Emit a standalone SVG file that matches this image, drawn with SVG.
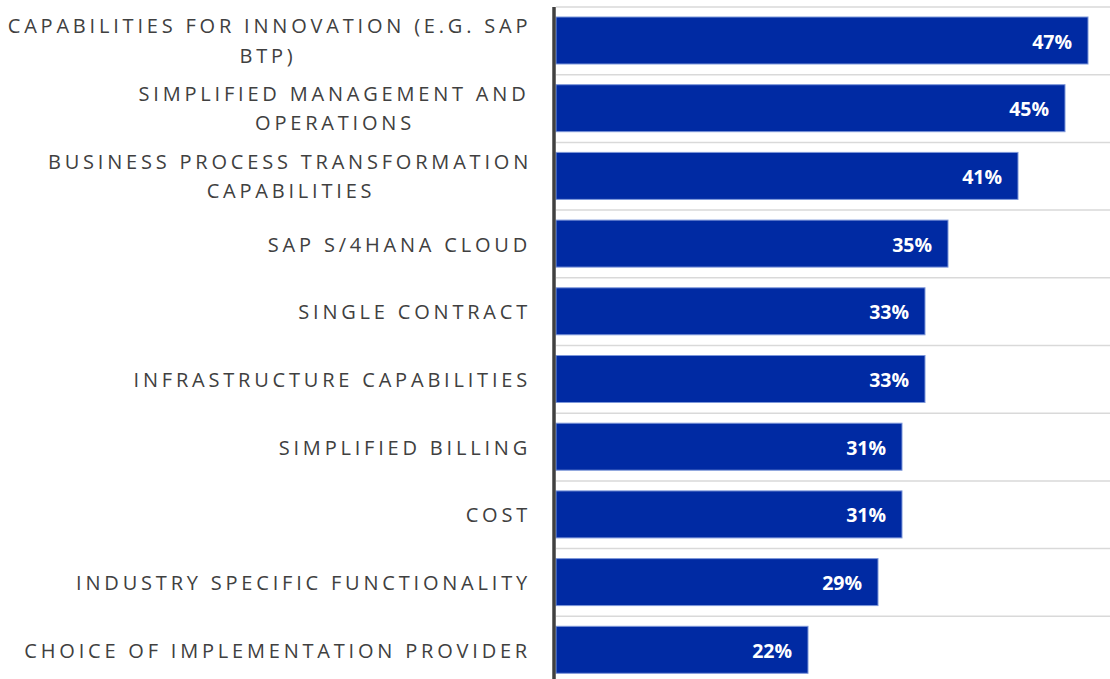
<svg xmlns="http://www.w3.org/2000/svg" width="1110" height="679" viewBox="0 0 1110 679">
<style>
.grid{stroke:#d9d9d9;stroke-width:1.5}
.bar{fill:#002aa3;stroke:#7d97d9;stroke-width:1}
.lbl{font-family:"Open Sans","Liberation Sans",sans-serif;font-size:20px;fill:#404040;letter-spacing:3.8px}
.end{text-anchor:end}
.mid{text-anchor:middle}
.val{font-family:"Open Sans","Liberation Sans",sans-serif;font-size:19.5px;font-weight:bold;fill:#ffffff;text-anchor:end}
</style>
<rect width="1110" height="679" fill="#ffffff"/>
<g id="gridlines">
<line class="grid" x1="556" y1="7" x2="1110" y2="7"/>
<line class="grid" x1="556" y1="74.7" x2="1110" y2="74.7"/>
<line class="grid" x1="556" y1="142.4" x2="1110" y2="142.4"/>
<line class="grid" x1="556" y1="210.1" x2="1110" y2="210.1"/>
<line class="grid" x1="556" y1="277.8" x2="1110" y2="277.8"/>
<line class="grid" x1="556" y1="345.5" x2="1110" y2="345.5"/>
<line class="grid" x1="556" y1="413.2" x2="1110" y2="413.2"/>
<line class="grid" x1="556" y1="480.9" x2="1110" y2="480.9"/>
<line class="grid" x1="556" y1="548.6" x2="1110" y2="548.6"/>
<line class="grid" x1="556" y1="616.3" x2="1110" y2="616.3"/>
</g>
<g id="row1">
<rect class="bar" x="556" y="17" width="532" height="47"/>
<text class="val" x="1072" y="48.5">47%</text>
<text class="lbl mid" x="269.5" y="33.3">CAPABILITIES FOR INNOVATION (E.G. SAP</text>
<text class="lbl mid" x="268" y="62.7">BTP)</text>
</g>
<g id="row2">
<rect class="bar" x="556" y="84.7" width="509" height="47"/>
<text class="val" x="1049" y="116.2">45%</text>
<text class="lbl mid" x="334" y="101">SIMPLIFIED MANAGEMENT AND</text>
<text class="lbl mid" x="335" y="129.5">OPERATIONS</text>
</g>
<g id="row3">
<rect class="bar" x="556" y="152.4" width="462" height="47"/>
<text class="val" x="1002" y="183.9">41%</text>
<text class="lbl mid" x="290" y="168.5">BUSINESS PROCESS TRANSFORMATION</text>
<text class="lbl mid" x="291" y="197.5">CAPABILITIES</text>
</g>
<g id="row4">
<rect class="bar" x="556" y="220.1" width="392" height="47"/>
<text class="val" x="932" y="251.6">35%</text>
<text class="lbl end" x="531" y="251.5">SAP S/4HANA CLOUD</text>
</g>
<g id="row5">
<rect class="bar" x="556" y="287.8" width="369" height="47"/>
<text class="val" x="909" y="319.3">33%</text>
<text class="lbl end" x="531" y="319.2">SINGLE CONTRACT</text>
</g>
<g id="row6">
<rect class="bar" x="556" y="355.5" width="369" height="47"/>
<text class="val" x="909" y="387">33%</text>
<text class="lbl end" x="531" y="386.9">INFRASTRUCTURE CAPABILITIES</text>
</g>
<g id="row7">
<rect class="bar" x="556" y="423.2" width="346" height="47"/>
<text class="val" x="886" y="454.7">31%</text>
<text class="lbl end" x="531" y="454.6">SIMPLIFIED BILLING</text>
</g>
<g id="row8">
<rect class="bar" x="556" y="490.9" width="346" height="47"/>
<text class="val" x="886" y="522.4">31%</text>
<text class="lbl end" x="531" y="522.3">COST</text>
</g>
<g id="row9">
<rect class="bar" x="556" y="558.6" width="322" height="47"/>
<text class="val" x="862" y="590.1">29%</text>
<text class="lbl end" x="531" y="590">INDUSTRY SPECIFIC FUNCTIONALITY</text>
</g>
<g id="row10">
<rect class="bar" x="556" y="626.3" width="252" height="47"/>
<text class="val" x="792" y="657.8">22%</text>
<text class="lbl end" x="531" y="657.7">CHOICE OF IMPLEMENTATION PROVIDER</text>
</g>
<g id="axis">
<line x1="554" y1="7" x2="554" y2="679" stroke="#404040" stroke-width="3.5"/>
</g>
</svg>
